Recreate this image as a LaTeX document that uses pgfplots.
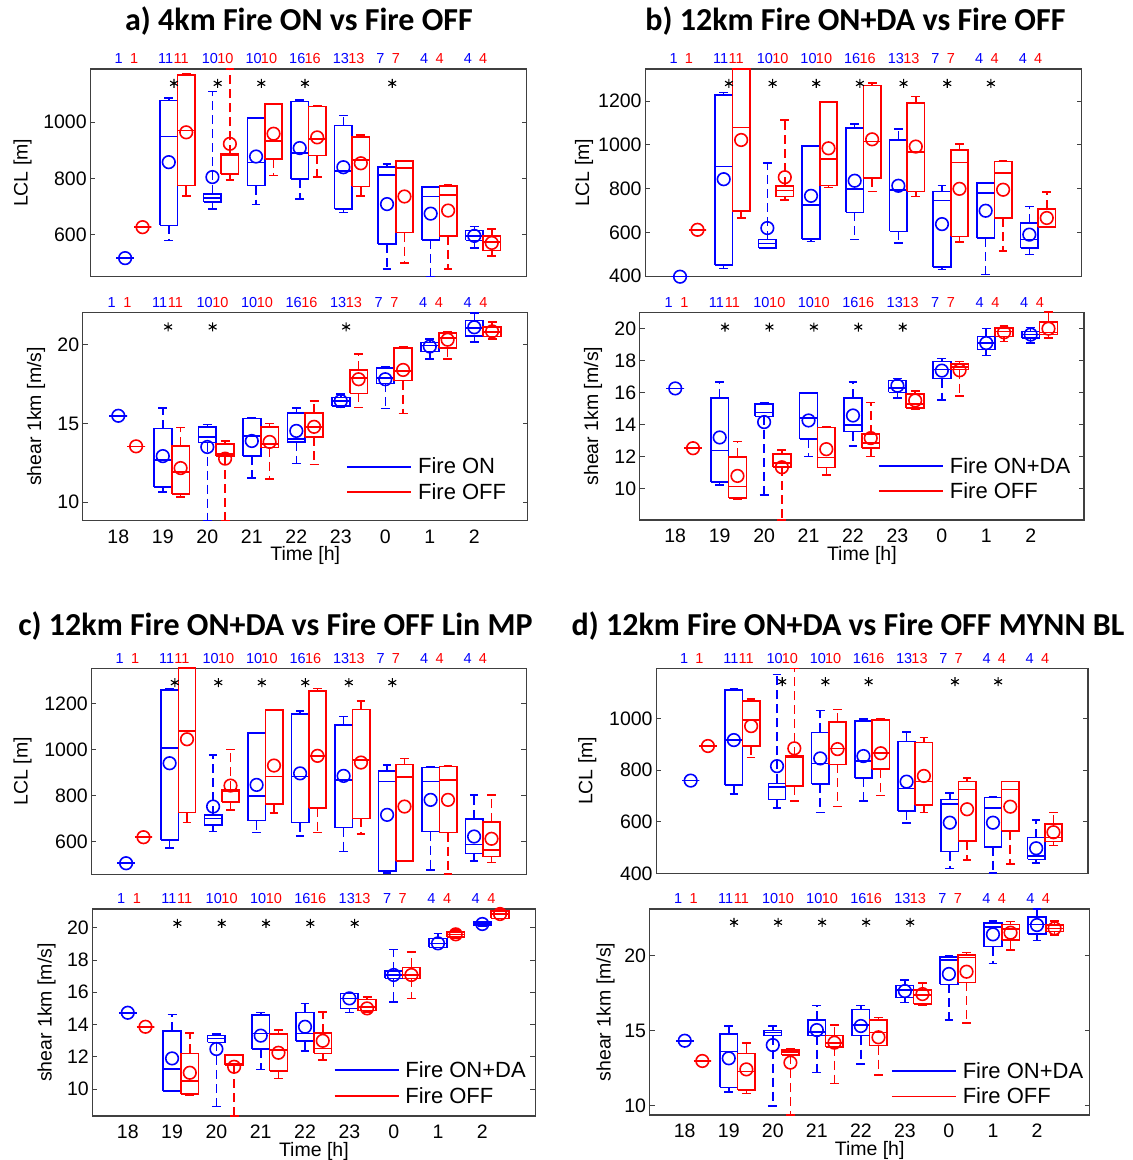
\documentclass[border=0pt]{standalone}
\usepackage{fontspec}
\setmainfont{Liberation Sans}
\newfontfamily\titlefont{Carlito}
\usepackage{pgfplots}
\pgfplotsset{compat=1.18}

% one box: colour, position, lower whisker, q1, median, q3, upper whisker
\newcommand\bx[7]{%
  \pgfmathsetmacro\bxL{#2-0.2}\pgfmathsetmacro\bxR{#2+0.2}%
  \pgfmathsetmacro\bxCL{#2-0.1}\pgfmathsetmacro\bxCR{#2+0.1}%
  \edef\bxdo{%
    \noexpand\addplot[#1, solidbox] coordinates {(\bxL,#4)(\bxR,#4)(\bxR,#6)(\bxL,#6)(\bxL,#4)
      (nan,nan)(\bxL,#5)(\bxR,#5)(nan,nan)(\bxCL,#7)(\bxCR,#7)(nan,nan)(\bxCL,#3)(\bxCR,#3)};
    \noexpand\addplot[#1, whisk] coordinates {(#2,#6)(#2,#7)(nan,nan)(#2,#4)(#2,#3)};}%
  \bxdo}

% sample counts above the frame (x given in rel axis units, box left edge)
\tikzset{cb/.style={blue, xshift=-2pt}, cr/.style={red, xshift=-4pt}}
\newcommand\cnt[3]{\node[#1, anchor=west, inner sep=0pt, yshift=10pt,
  font=\fontsize{14.5}{16}\selectfont] at (rel axis cs:#2,1) {#3};}
\newcommand\counts{%
  \cnt{cb}{0.06}{1}\cnt{cr}{0.10}{1}%
  \cnt{cb}{0.16}{11}\cnt{cr}{0.20}{11}%
  \cnt{cb}{0.26}{10}\cnt{cr}{0.30}{10}%
  \cnt{cb}{0.36}{10}\cnt{cr}{0.40}{10}%
  \cnt{cb}{0.46}{16}\cnt{cr}{0.50}{16}%
  \cnt{cb}{0.56}{13}\cnt{cr}{0.60}{13}%
  \cnt{cb}{0.66}{7}\cnt{cr}{0.70}{7}%
  \cnt{cb}{0.76}{4}\cnt{cr}{0.80}{4}%
  \cnt{cb}{0.86}{4}\cnt{cr}{0.90}{4}}

\pgfplotsset{
  solidbox/.style={forget plot, line width=1.6pt, unbounded coords=jump},
  whisk/.style={forget plot, line width=1.6pt, unbounded coords=jump, dash pattern=on 9pt off 5pt},
  boxfig/.style={
    scale only axis, anchor=south west, clip=false,
    xmin=-0.8, xmax=9.2, xtick={0,...,8}, xtick style={draw=none},
    tick align=inside, major tick length=5pt,
    every tick/.style={black!75, line width=0.9pt},
    axis line style={black!75, line width=1.1pt},
    tick label style={font=\fontsize{19.5}{22}\selectfont},
    label style={font=\fontsize{19.5}{22}\selectfont},
    /pgf/number format/assume math mode=true,
    /pgf/number format/1000 sep={},
  },
  yl/.style={ylabel style={at={(axis description cs:#1,0.5)}, anchor=center}},
  lcl/.style={boxfig, xticklabels={}, ylabel={LCL [m]}},
  shear/.style={boxfig, xticklabels={18,19,20,21,22,23,0,1,2},
    xlabel={Time [h]}, ylabel={shear 1km [m/s]},
    xticklabel style={anchor=center, yshift=-16pt},
    xlabel style={at={(axis description cs:0.5,0)}, anchor=center, yshift=-35pt},
    legend cell align=left,
    legend image code/.code={\draw[##1, line width=1.8pt] (0pt,0pt) -- (64pt,0pt);},
    legend style={draw=none, fill=none, anchor=west, inner sep=0pt,
      row sep=4pt, column sep=4pt, nodes={inner sep=2pt},
      font=\fontsize{22}{24}\selectfont},
  },
  leg/.style 2 args={legend style={at={(#1,#2)}}},
  mean/.style={only marks, mark=o, mark size=6.3pt, line width=1.6pt, forget plot},
  sig/.style={black, only marks, mark=asterisk, mark size=4.5pt, line width=1.1pt, forget plot},
}

\begin{document}
\begin{tikzpicture}
\path[use as bounding box] (0pt,0pt) rectangle (1133pt,1160pt);

\begin{scope}[font=\titlefont\bfseries\fontsize{32}{36}\selectfont]
\node[anchor=base] at (299pt,1129.5pt) {a) 4km Fire ON vs Fire OFF};
\node[anchor=base] at (855.5pt,1129.5pt) {b) 12km Fire ON+DA vs Fire OFF};
\node[anchor=base] at (275.5pt,524pt) {c) 12km Fire ON+DA vs Fire OFF Lin MP};
\node[anchor=base] at (848pt,524pt) {d) 12km Fire ON+DA vs Fire OFF MYNN BL};
\end{scope}

% ---------------- a) LCL
\begin{axis}[lcl, yl=-0.155, at={(90.2pt,883.3pt)}, width=436.5pt, height=207.7pt,
  ymin=451, ymax=1189, ytick={600,800,1000}]
\bx{blue}{0}{517}{517}{517}{517}{517}
\bx{blue}{1}{580}{633}{949}{1077}{1085}
\bx{blue}{2}{692}{716}{730}{744}{1109}
\bx{blue}{3}{707}{775}{857}{1015}{1015}
\bx{blue}{4}{728}{798}{890}{1073}{1079}
\bx{blue}{5}{679}{691}{827}{988}{1024}
\bx{blue}{6}{479}{568}{813}{840}{852}
\bx{blue}{7}{451}{582}{736}{769}{772}
\bx{blue}{8}{553}{580}{596}{615}{629}
\bx{red}{0.4}{627}{627}{627}{627}{627}
\bx{red}{1.4}{738}{775}{970}{1168}{1172}
\bx{red}{2.4}{795}{815}{882}{886}{1189}
\bx{red}{3.4}{810}{870}{934}{1065}{1065}
\bx{red}{4.4}{805}{882}{940}{1056}{1059}
\bx{red}{5.4}{738}{772}{866}{947}{955}
\bx{red}{6.4}{499}{608}{837}{863}{863}
\bx{red}{7.4}{478}{596}{742}{774}{778}
\bx{red}{8.4}{525}{544}{575}{596}{621}
\addplot[blue, mean] coordinates {(0,517)(1,858)(2,805)(3,878)(4,908)(5,840)(6,709)(7,675)(8,596)};
\addplot[red, mean] coordinates {(0.4,627)(1.4,964)(2.4,923)(3.4,959)(4.4,946)(5.4,854)(6.4,736)(7.4,686)(8.4,571)};
\addplot[sig] coordinates {(1.12,1138)(2.12,1138)(3.12,1138)(4.12,1138)(6.12,1138)};
\counts
\end{axis}

% ---------------- a) shear
\begin{axis}[shear, yl=-0.105, leg={0.592}{0.198}, at={(82.7pt,639.3pt)}, width=445pt, height=208.4pt,
  ymin=8.83, ymax=22.06, ytick={10,15,20}]
\addlegendimage{blue}\addlegendentry{Fire ON}
\addlegendimage{red}\addlegendentry{Fire OFF}
\bx{blue}{0}{15.49}{15.49}{15.49}{15.49}{15.49}
\bx{blue}{1}{10.64}{10.96}{12.70}{14.68}{16.0}
\bx{blue}{2}{8.83}{13.79}{14.15}{14.79}{14.94}
\bx{blue}{3}{11.53}{12.93}{14.21}{15.32}{15.36}
\bx{blue}{4}{12.45}{13.83}{14.0}{15.68}{16.0}
\bx{blue}{5}{16.02}{16.11}{16.43}{16.66}{16.87}
\bx{blue}{6}{15.96}{17.55}{17.87}{18.51}{18.62}
\bx{blue}{7}{19.08}{19.57}{19.94}{20.15}{20.36}
\bx{blue}{8}{20.17}{20.57}{21.06}{21.55}{22.02}
\bx{red}{0.4}{13.55}{13.55}{13.55}{13.55}{13.55}
\bx{red}{1.4}{10.32}{10.53}{11.91}{13.57}{14.74}
\bx{red}{2.4}{8.83}{12.93}{13.08}{13.68}{13.89}
\bx{red}{3.4}{11.49}{13.47}{13.68}{14.79}{15.0}
\bx{red}{4.4}{12.40}{14.15}{14.79}{15.68}{16.43}
\bx{red}{5.4}{16.02}{16.91}{17.87}{18.40}{19.43}
\bx{red}{6.4}{15.64}{17.72}{18.34}{19.79}{19.89}
\bx{red}{7.4}{19.08}{19.79}{20.43}{20.74}{20.85}
\bx{red}{8.4}{20.38}{20.53}{20.81}{21.11}{21.45}
\addplot[blue, mean] coordinates {(0,15.49)(1,12.93)(2,13.51)(3,13.89)(4,14.53)(5,16.43)(6,17.81)(7,19.89)(8,21.11)};
\addplot[red, mean] coordinates {(0.4,13.55)(1.4,12.17)(2.4,12.77)(3.4,13.83)(4.4,14.79)(5.4,17.81)(6.4,18.40)(7.4,20.32)(8.4,20.85)};
\addplot[sig] coordinates {(1.12,21.13)(2.12,21.13)(5.12,21.13)};
\counts
\end{axis}

% ---------------- b) LCL
\begin{axis}[lcl, yl=-0.14, at={(645.1pt,883.3pt)}, width=436.6pt, height=207.7pt,
  ymin=398, ymax=1346, ytick={400,600,800,1000,1200}]
\bx{blue}{0}{398}{398}{398}{398}{398}
\bx{blue}{1}{435}{450}{901}{1227}{1238}
\bx{blue}{2}{529}{529}{549}{567}{916}
\bx{blue}{3}{559}{570}{726}{995}{995}
\bx{blue}{4}{567}{691}{798}{1076}{1094}
\bx{blue}{5}{552}{605}{795}{1022}{1071}
\bx{blue}{6}{430}{441}{745}{787}{814}
\bx{blue}{7}{408}{575}{780}{825}{828}
\bx{blue}{8}{499}{529}{567}{643}{719}
\bx{red}{0.4}{612}{612}{612}{612}{612}
\bx{red}{1.4}{666}{699}{1079}{1346}{1346}
\bx{red}{2.4}{749}{764}{792}{813}{1113}
\bx{red}{3.4}{805}{814}{934}{1194}{1194}
\bx{red}{4.4}{787}{848}{1015}{1270}{1283}
\bx{red}{5.4}{764}{787}{966}{1192}{1220}
\bx{red}{6.4}{556}{582}{919}{977}{1003}
\bx{red}{7.4}{514}{666}{871}{924}{927}
\bx{red}{8.4}{625}{625}{625}{707}{784}
\addplot[blue, mean] coordinates {(0,398)(1,843)(2,620)(3,767)(4,836)(5,813)(6,638)(7,699)(8,590)};
\addplot[red, mean] coordinates {(0.4,612)(1.4,1022)(2.4,852)(3.4,984)(4.4,1025)(5.4,992)(6.4,799)(7.4,795)(8.4,666)};
\addplot[sig] coordinates {(1.12,1280)(2.12,1280)(3.12,1280)(4.12,1280)(5.12,1280)(6.12,1280)(7.12,1280)};
\counts
\end{axis}

% ---------------- b) shear
\begin{axis}[shear, yl=-0.105, leg={0.536}{0.199}, at={(639.7pt,640pt)}, width=444.3pt, height=207.7pt,
  ymin=8.06, ymax=21.02, ytick={10,12,...,20}]
\addlegendimage{blue}\addlegendentry{Fire ON+DA}
\addlegendimage{red}\addlegendentry{Fire OFF}
\bx{blue}{0}{16.27}{16.27}{16.27}{16.27}{16.27}
\bx{blue}{1}{10.25}{10.42}{12.40}{15.67}{16.67}
\bx{blue}{2}{9.63}{14.52}{14.77}{15.29}{15.35}
\bx{blue}{3}{12.02}{13.10}{14.42}{15.98}{15.98}
\bx{blue}{4}{12.69}{13.58}{14.0}{15.67}{16.67}
\bx{blue}{5}{15.67}{16.02}{16.29}{16.77}{16.88}
\bx{blue}{6}{15.56}{16.88}{17.44}{17.96}{18.13}
\bx{blue}{7}{18.33}{18.69}{19.10}{19.52}{20.0}
\bx{blue}{8}{19.10}{19.42}{19.63}{19.83}{20.08}
\bx{red}{0.4}{12.54}{12.54}{12.54}{12.54}{12.54}
\bx{red}{1.4}{9.35}{9.42}{10.15}{11.98}{12.96}
\bx{red}{2.4}{8.06}{11.35}{11.60}{12.19}{12.44}
\bx{red}{3.4}{10.88}{11.33}{11.96}{13.83}{13.90}
\bx{red}{4.4}{12.02}{12.54}{12.85}{13.44}{15.40}
\bx{red}{5.4}{15.0}{15.04}{15.29}{15.92}{16.12}
\bx{red}{6.4}{15.81}{17.44}{17.60}{17.81}{17.96}
\bx{red}{7.4}{19.21}{19.52}{19.83}{20.04}{20.15}
\bx{red}{8.4}{19.42}{19.63}{19.77}{20.40}{21.02}
\addplot[blue, mean] coordinates {(0,16.27)(1,13.21)(2,14.17)(3,14.27)(4,14.58)(5,16.44)(6,17.38)(7,19.10)(8,19.63)};
\addplot[red, mean] coordinates {(0.4,12.54)(1.4,10.81)(2.4,11.35)(3.4,12.48)(4.4,13.17)(5.4,15.52)(6.4,17.40)(7.4,19.77)(8.4,20.0)};
\addplot[sig] coordinates {(1.12,20.10)(2.12,20.10)(3.12,20.10)(4.12,20.10)(5.12,20.10)};
\counts
\end{axis}

% ---------------- c) LCL
\begin{axis}[lcl, yl=-0.158, at={(91.3pt,285.7pt)}, width=435pt, height=206pt,
  ymin=458, ymax=1352, ytick={600,800,1000,1200}]
\bx{blue}{0}{506}{506}{506}{506}{506}
\bx{blue}{1}{571}{607}{1005}{1258}{1261}
\bx{blue}{2}{643}{672}{701}{716}{976}
\bx{blue}{3}{639}{691}{798}{1070}{1070}
\bx{blue}{4}{624}{682}{882}{1154}{1167}
\bx{blue}{5}{557}{661}{867}{1106}{1142}
\bx{blue}{6}{463}{473}{860}{906}{932}
\bx{blue}{7}{477}{643}{860}{922}{925}
\bx{blue}{8}{516}{549}{588}{697}{802}
\bx{red}{0.4}{619}{619}{619}{619}{619}
\bx{red}{1.4}{682}{726}{1081}{1352}{1352}
\bx{red}{2.4}{737}{771}{817}{824}{1000}
\bx{red}{3.4}{723}{762}{882}{1171}{1171}
\bx{red}{4.4}{639}{747}{972}{1254}{1265}
\bx{red}{5.4}{633}{701}{954}{1174}{1210}
\bx{red}{6.4}{517}{517}{879}{935}{961}
\bx{red}{7.4}{458}{639}{867}{925}{928}
\bx{red}{8.4}{509}{535}{564}{684}{802}
\addplot[blue, mean] coordinates {(0,506)(1,940)(2,752)(3,846)(4,896)(5,885)(6,716)(7,781)(8,622)};
\addplot[red, mean] coordinates {(0.4,619)(1.4,1044)(2.4,843)(3.4,930)(4.4,972)(5.4,943)(6.4,752)(7.4,781)(8.4,612)};
\addplot[sig] coordinates {(1.12,1290)(2.12,1290)(3.12,1290)(4.12,1290)(5.12,1290)(6.12,1290)};
\counts
\end{axis}

% ---------------- c) shear
\begin{axis}[shear, yl=-0.103, leg={0.544}{0.159}, at={(92.3pt,44pt)}, width=443.2pt, height=207pt,
  ymin=8.33, ymax=21.16, ytick={10,12,...,20}]
\addlegendimage{blue}\addlegendentry{Fire ON+DA}
\addlegendimage{red}\addlegendentry{Fire OFF}
\bx{blue}{0}{14.73}{14.73}{14.73}{14.73}{14.73}
\bx{blue}{1}{9.84}{9.88}{11.24}{13.60}{14.63}
\bx{blue}{2}{8.91}{12.89}{13.14}{13.31}{13.41}
\bx{blue}{3}{11.22}{12.48}{13.45}{14.59}{14.75}
\bx{blue}{4}{12.36}{12.99}{13.45}{14.75}{15.31}
\bx{blue}{5}{14.75}{15.0}{15.62}{15.93}{15.93}
\bx{blue}{6}{15.41}{16.86}{17.07}{17.31}{18.66}
\bx{blue}{7}{18.78}{18.78}{19.03}{19.34}{19.65}
\bx{blue}{8}{20.12}{20.17}{20.27}{20.37}{20.37}
\bx{red}{0.4}{13.86}{13.86}{13.86}{13.86}{13.86}
\bx{red}{1.4}{9.63}{9.69}{10.50}{12.21}{13.49}
\bx{red}{2.4}{8.33}{11.49}{11.59}{12.11}{12.15}
\bx{red}{3.4}{10.66}{11.12}{12.42}{13.41}{13.66}
\bx{red}{4.4}{11.80}{12.21}{12.52}{13.49}{14.79}
\bx{red}{5.4}{14.79}{14.86}{15.10}{15.56}{15.72}
\bx{red}{6.4}{15.62}{16.86}{17.07}{17.54}{18.51}
\bx{red}{7.4}{19.38}{19.44}{19.59}{19.75}{19.86}
\bx{red}{8.4}{20.58}{20.58}{20.85}{21.05}{21.16}
\addplot[blue, mean] coordinates {(0,14.73)(1,11.90)(2,12.48)(3,13.31)(4,13.86)(5,15.62)(6,17.07)(7,19.03)(8,20.23)};
\addplot[red, mean] coordinates {(0.4,13.86)(1.4,11.01)(2.4,11.38)(3.4,12.25)(4.4,12.99)(5.4,15.0)(6.4,17.07)(7.4,19.59)(8.4,20.85)};
\addplot[sig] coordinates {(1.12,20.27)(2.12,20.27)(3.12,20.27)(4.12,20.27)(5.12,20.27)};
\counts
\end{axis}

% ---------------- d) LCL
\begin{axis}[lcl, yl=-0.159, at={(656.1pt,286.7pt)}, width=431.9pt, height=205pt,
  ymin=400, ymax=1194, ytick={400,600,800,1000}]
\bx{blue}{0}{759}{759}{759}{759}{759}
\bx{blue}{1}{707}{742}{916}{1110}{1114}
\bx{blue}{2}{652}{686}{735}{748}{1170}
\bx{blue}{3}{636}{745}{826}{946}{1030}
\bx{blue}{4}{680}{768}{836}{990}{997}
\bx{blue}{5}{594}{641}{729}{910}{948}
\bx{blue}{6}{419}{484}{668}{686}{710}
\bx{blue}{7}{400}{503}{652}{694}{697}
\bx{blue}{8}{439}{454}{467}{538}{606}
\bx{red}{0.4}{893}{893}{893}{893}{893}
\bx{red}{1.4}{848}{893}{994}{1067}{1074}
\bx{red}{2.4}{680}{738}{850}{854}{1194}
\bx{red}{3.4}{658}{822}{884}{987}{1035}
\bx{red}{4.4}{701}{803}{865}{994}{1000}
\bx{red}{5.4}{635}{665}{755}{906}{926}
\bx{red}{6.4}{452}{526}{725}{755}{770}
\bx{red}{7.4}{436}{564}{725}{755}{755}
\bx{red}{8.4}{507}{523}{539}{590}{635}
\addplot[blue, mean] coordinates {(0,759)(1,916)(2,815)(3,845)(4,854)(5,755)(6,596)(7,596)(8,497)};
\addplot[red, mean] coordinates {(0.4,893)(1.4,970)(2.4,884)(3.4,881)(4.4,865)(5.4,777)(6.4,648)(7.4,658)(8.4,559)};
\addplot[sig] coordinates {(2.12,1142)(3.12,1142)(4.12,1142)(6.12,1142)(7.12,1142)};
\counts
\end{axis}

% ---------------- d) shear
\begin{axis}[shear, yl=-0.10, leg={0.548}{0.152}, at={(649.5pt,45pt)}, width=440.3pt, height=206pt,
  ymin=9.38, ymax=23.11, ytick={10,15,20}]
\addlegendimage{blue}\addlegendentry{Fire ON+DA}
\addlegendimage{red}\addlegendentry{Fire OFF}
\bx{blue}{0}{14.33}{14.33}{14.33}{14.33}{14.33}
\bx{blue}{1}{10.93}{11.22}{13.60}{14.78}{15.31}
\bx{blue}{2}{9.98}{14.67}{14.87}{15.0}{15.33}
\bx{blue}{3}{12.20}{14.67}{14.93}{15.71}{16.67}
\bx{blue}{4}{12.76}{14.67}{15.38}{16.42}{16.67}
\bx{blue}{5}{16.89}{17.20}{17.71}{18.0}{18.38}
\bx{blue}{6}{15.71}{18.09}{19.71}{19.93}{20.0}
\bx{blue}{7}{19.49}{20.60}{21.93}{22.16}{22.33}
\bx{blue}{8}{21.0}{21.44}{22.09}{22.56}{23.11}
\bx{red}{0.4}{12.98}{12.98}{12.98}{12.98}{12.98}
\bx{red}{1.4}{10.82}{11.04}{12.27}{13.49}{14.16}
\bx{red}{2.4}{9.38}{13.38}{13.56}{13.71}{13.76}
\bx{red}{3.4}{11.49}{13.93}{14.16}{14.67}{15.38}
\bx{red}{4.4}{12.04}{14.0}{14.87}{15.71}{15.87}
\bx{red}{5.4}{16.67}{16.76}{17.38}{17.71}{18.16}
\bx{red}{6.4}{15.53}{18.22}{19.87}{20.04}{20.22}
\bx{red}{7.4}{20.38}{21.04}{21.78}{22.09}{22.27}
\bx{red}{8.4}{21.38}{21.60}{21.82}{22.04}{22.33}
\addplot[blue, mean] coordinates {(0,14.33)(1,13.16)(2,14.04)(3,15.04)(4,15.31)(5,17.64)(6,18.78)(7,21.42)(8,22.04)};
\addplot[red, mean] coordinates {(0.4,12.98)(1.4,12.42)(2.4,12.87)(3.4,14.20)(4.4,14.56)(5.4,17.44)(6.4,18.93)(7.4,21.53)(8.4,21.82)};
\addplot[sig] coordinates {(1.12,22.22)(2.12,22.22)(3.12,22.22)(4.12,22.22)(5.12,22.22)};
\counts
\end{axis}
\end{tikzpicture}
\end{document}
